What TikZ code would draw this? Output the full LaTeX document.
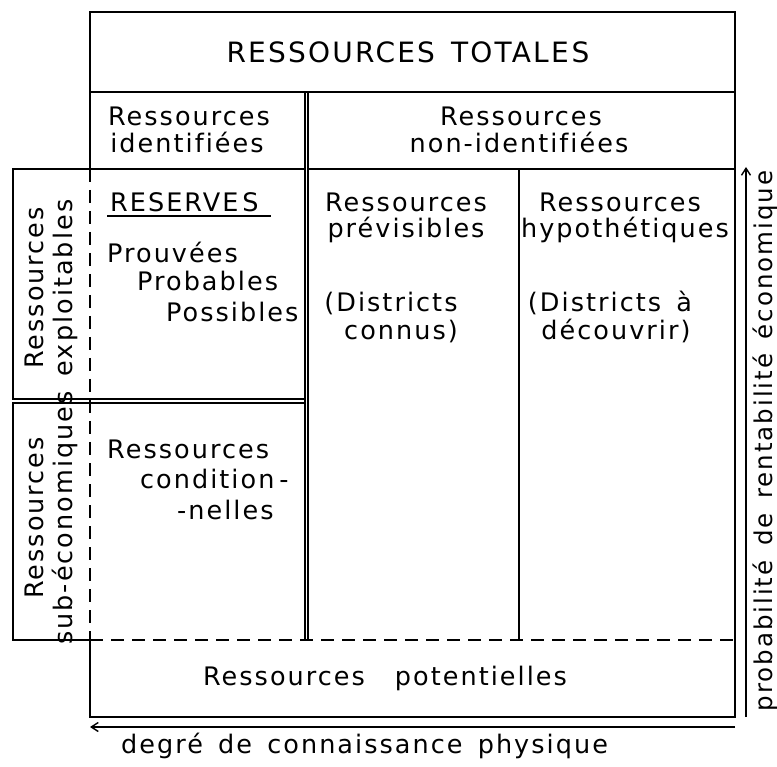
\documentclass[tikz,border=0pt]{standalone}
\usepackage{fontspec}
\setmainfont{DejaVu Sans}[LetterSpace=8, WordSpace=1.5, Ligatures=NoCommon]
\usetikzlibrary{arrows.meta}
\begin{document}
\begin{tikzpicture}[x=1pt,y=-1pt,
  frame/.style={line width=1.4pt, line cap=rect},
  thickbox/.style={line width=2.6pt},
  dashline/.style={line width=1.4pt, dash pattern=on 13pt off 8pt},
  lbl/.style={inner sep=0pt, font=\fontsize{25.5}{29}\selectfont},
  caps/.style={inner sep=0pt, font=\fontsize{28}{32}\selectfont},
  axis/.style={line width=1.4pt, -{Straight Barb[length=7pt,width=9pt]}}]
\useasboundingbox (0,0) rectangle (777,767);
% frame
\draw[frame] (90,169) -- (90,12) -- (735,12) -- (735,717) -- (90,717) -- (90,640);
\draw[dashline] (90,169) -- (90,640);
\draw[frame] (90,92) -- (735,92);
\draw[frame] (308,169) -- (735,169);
\draw[frame] (305,92) -- (305,640);
\draw[frame] (308,92) -- (308,640);
\draw[frame] (519,169) -- (519,640);
\draw[dashline] (90,640) -- (735,640);
\draw[thickbox] (13,169) rectangle (305,399);
\draw[frame] (305,403) -- (13,403) -- (13,640) -- (90,640);
% axes
\coordinate (xs) at (735,727);
\coordinate (xe) at (90,727);
\coordinate (ys) at (746,717);
\coordinate (ye) at (746,167);
\draw[axis] (xs) -- (xe);
\draw[axis] (ys) -- (ye);
% texts
\node[caps, anchor=base] (tot) at (408,63) {RESSOURCES\hspace{16pt}TOTALE\kern3pt S};
\node[lbl, anchor=base] (id1) at (189,126) {Ressources};
\node[lbl, anchor=base] (id2) at (187,153) {identifiées};
\node[lbl, anchor=base] (nid1) at (521,126) {Ressources};
\node[lbl, anchor=base] (nid2) at (519,153) {non-identifiées};
\node[lbl, anchor=base west] (res) at (110,212) {RESERVE\kern4pt S};
\draw[frame] (res.base west) ++(-2,4) -- ++(162,0);
\node[lbl, anchor=base west] (p1) at (107,263) {Prouvées};
\node[lbl, anchor=base west] (p2) at (137,291) {Probables};
\node[lbl, anchor=base west] (p3) at (166,322) {Possibles};
\node[lbl, anchor=base west] (c1) at (107,458) {Ressources};
\node[lbl, anchor=base west] (c2) at (140,488) {condition\kern5pt-};
\node[lbl, anchor=base west] (c3) at (177,519) {-nelles};
\node[lbl, anchor=base] (pr1) at (406,212) {Ressources};
\node[lbl, anchor=base] (pr2) at (406,238) {prévisibles};
\node[lbl, anchor=base] (pr3) at (391,312) {(Districts};
\node[lbl, anchor=base] (pr4) at (401,340) {connus)};
\node[lbl, anchor=base] (hy1) at (620,212) {Ressources};
\node[lbl, anchor=base] (hy2) at (625,238) {hypothétiques};
\node[lbl, anchor=base] (hy3) at (610,312) {(Districts à};
\node[lbl, anchor=base] (hy4) at (616,340) {découvrir)};
\node[lbl, rotate=90, align=center] (ex) at (51,288) {Ressources\\exploitables};
\node[lbl, rotate=90, align=center] (se) at (51,518) {Ressources\\sub-économiques};
\node[lbl, anchor=base] (pot) at (385,685) {Ressources\hspace{30pt}potentielles};
\node[lbl, anchor=base west] (deg) at (121,753) {degré de connaissance physique};
\node[lbl, rotate=90, font=\fontsize{24.5}{29}\selectfont] (prob) at (765,441) {probabilité de rentabilité économique};
\end{tikzpicture}
\end{document}
